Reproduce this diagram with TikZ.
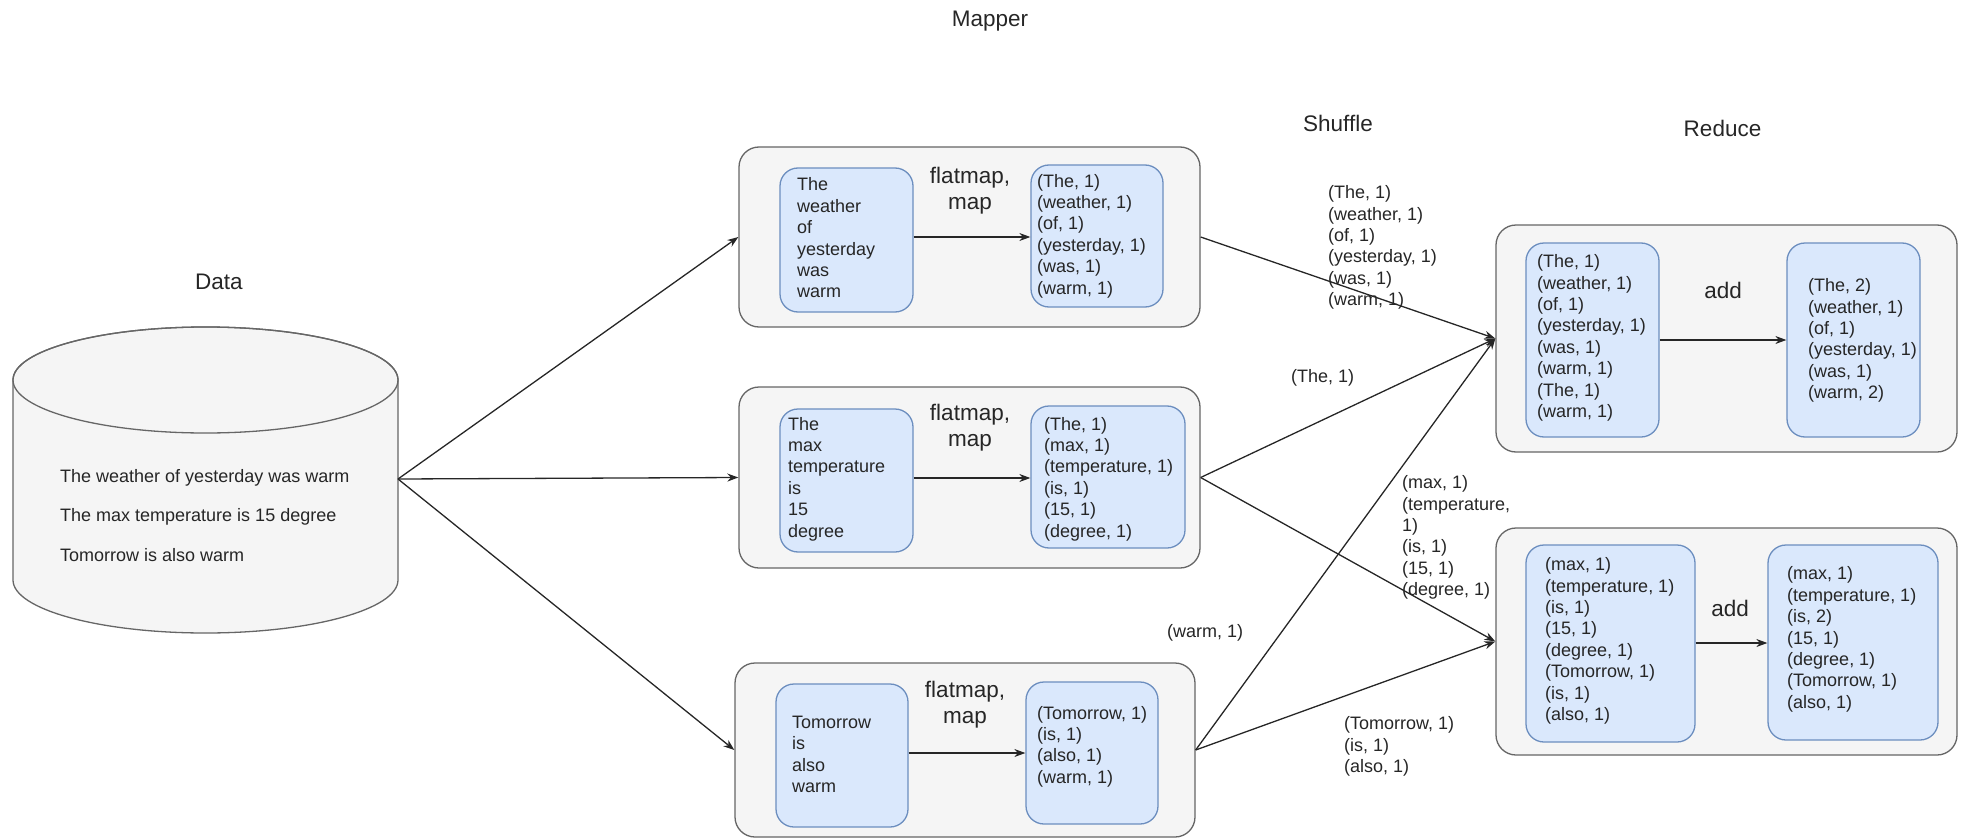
\documentclass[tikz,border=0pt]{standalone}
\usepackage{fontspec}
\setmainfont{Liberation Sans}
\usetikzlibrary{arrows.meta}
\definecolor{gfill}{HTML}{F5F5F5}
\definecolor{gstroke}{HTML}{666666}
\definecolor{bfill}{HTML}{DAE8FC}
\definecolor{bstroke}{HTML}{6C8EBF}
\begin{document}
\begin{tikzpicture}[x=1pt,y=-1pt,
  obox/.style={draw=gstroke, fill=gfill, rounded corners=20pt, line width=1.3pt, inner sep=0pt},
  ibox/.style={draw=bstroke, fill=bfill, rounded corners=18pt, line width=1.3pt, inner sep=0pt},
  txt/.style={inner sep=0pt, align=left, anchor=west, text=black!85, font=\fontsize{18}{21.4}\selectfont},
  ttl/.style={inner sep=0pt, text=black!85, font=\fontsize{22.5}{26}\selectfont},
  opl/.style={inner sep=0pt, align=center, text=black!85, font=\fontsize{22.5}{26}\selectfont},
  conn/.style={draw=black!85, line width=1.3pt, -{Stealth[length=11pt,width=8pt]}}]
\useasboundingbox (0,0) rectangle (1962,840);

% ---------- Data cylinder ----------
\path[fill=gfill, draw=gstroke, line width=1.3pt]
  (13,380) -- (13,580)
  .. controls (13,609.3) and (99.2,633) .. (205.5,633)
  .. controls (311.8,633) and (398,609.3) .. (398,580)
  -- (398,380)
  .. controls (398,350.7) and (311.8,327) .. (205.5,327)
  .. controls (99.2,327) and (13,350.7) .. (13,380) -- cycle;
\draw[gstroke, line width=1.3pt] (205.5,380) ellipse [x radius=192.5, y radius=53];
\coordinate (cyl) at (398,479);
\node[txt, font=\fontsize{18}{39.5}\selectfont] (datatext) at (60,515.5)
  {The weather of yesterday was warm\\The max temperature is 15 degree\\Tomorrow is also warm};

% ---------- Titles ----------
\node[ttl] (tdata) at (219,282) {Data};
\node[ttl] (tmapper) at (990,21) {Mapper};
\node[ttl] (tshuffle) at (1338,123) {Shuffle};
\node[ttl] (treduce) at (1722.5,128) {Reduce};

% ---------- Mapper boxes ----------
\node[obox, minimum width=461pt, minimum height=180pt] (m1) at (969.5,237) {};
\node[obox, minimum width=461pt, minimum height=181pt] (m2) at (969.5,477.5) {};
\node[obox, minimum width=460pt, minimum height=174pt] (m3) at (965,750) {};

\node[ibox, minimum width=133pt, minimum height=144pt] (m1a) at (846.5,240) {};
\node[ibox, minimum width=132pt, minimum height=142pt] (m1b) at (1097,236) {};
\node[ibox, minimum width=133pt, minimum height=143pt] (m2a) at (846.5,480.5) {};
\node[ibox, minimum width=154pt, minimum height=142pt] (m2b) at (1108,477) {};
\node[ibox, minimum width=132pt, minimum height=143pt] (m3a) at (842,755.5) {};
\node[ibox, minimum width=132pt, minimum height=142pt] (m3b) at (1092,753) {};

\node[txt] (m1at) at (797,238) {The\\weather\\of\\yesterday\\was\\warm};
\node[txt] (m1bt) at (1037,236) {(The, 1)\\(weather, 1)\\(of, 1)\\(yesterday, 1)\\(was, 1)\\(warm, 1)};
\node[txt] (m2at) at (788,479) {The\\max\\temperature\\is\\15\\degree};
\node[txt] (m2bt) at (1044,479) {(The, 1)\\(max, 1)\\(temperature, 1)\\(is, 1)\\(15, 1)\\(degree, 1)};
\node[txt] (m3at) at (792,754.5) {Tomorrow\\is\\also\\warm};
\node[txt] (m3bt) at (1037,746.5) {(Tomorrow, 1)\\(is, 1)\\(also, 1)\\(warm, 1)};

\node[opl] (m1op) at (970,191) {flatmap,\\map};
\node[opl] (m2op) at (970,427.5) {flatmap,\\map};
\node[opl] (m3op) at (965,704.5) {flatmap,\\map};

\draw[conn] (m1a.east |- 0,237) -- (m1b.west |- 0,237);
\draw[conn] (m2a.east |- 0,478) -- (m2b.west |- 0,478);
\draw[conn] (m3a.east |- 0,753) -- (m3b.west |- 0,753);

% ---------- Reduce boxes ----------
\node[obox, minimum width=461pt, minimum height=227pt] (r1) at (1726.5,338.5) {};
\node[obox, minimum width=461pt, minimum height=227pt] (r2) at (1726.5,641.5) {};

\node[ibox, minimum width=133pt, minimum height=194pt] (r1a) at (1592.5,340) {};
\node[ibox, minimum width=133pt, minimum height=194pt] (r1b) at (1853.5,340) {};
\node[ibox, minimum width=169pt, minimum height=197pt] (r2a) at (1610.5,643.5) {};
\node[ibox, minimum width=170pt, minimum height=195pt] (r2b) at (1853,642.5) {};

\node[txt] (r1at) at (1537,338) {(The, 1)\\(weather, 1)\\(of, 1)\\(yesterday, 1)\\(was, 1)\\(warm, 1)\\(The, 1)\\(warm, 1)};
\node[txt] (r1bt) at (1808,340.5) {(The, 2)\\(weather, 1)\\(of, 1)\\(yesterday, 1)\\(was, 1)\\(warm, 2)};
\node[txt] (r2at) at (1545,641) {(max, 1)\\(temperature, 1)\\(is, 1)\\(15, 1)\\(degree, 1)\\(Tomorrow, 1)\\(is, 1)\\(also, 1)};
\node[txt] (r2bt) at (1787,639.5) {(max, 1)\\(temperature, 1)\\(is, 2)\\(15, 1)\\(degree, 1)\\(Tomorrow, 1)\\(also, 1)};

\node[opl] (r1op) at (1723,290) {add};
\node[opl] (r2op) at (1730,608) {add};

\draw[conn] (r1a.east |- 0,340) -- (r1b.west |- 0,340);
\draw[conn] (r2a.east |- 0,643) -- (r2b.west |- 0,643);

% ---------- Data -> Mapper ----------
\draw[conn] (cyl) -- (m1.west);
\draw[conn] (cyl) -- (m2.west);
\draw[conn] (cyl) -- (m3.west);

% ---------- Shuffle ----------
\draw[conn] (m1.east) -- (r1.west);
\draw[conn] (m2.east) -- (r1.west);
\draw[conn] (m3.east) -- (r1.west);
\draw[conn] (m2.east) -- (r2.west);
\draw[conn] (m3.east) -- (r2.west);

\node[txt] (l1) at (1328,247.5) {(The, 1)\\(weather, 1)\\(of, 1)\\(yesterday, 1)\\(was, 1)\\(warm, 1)};
\node[txt] (l2) at (1291,378) {(The, 1)};
\node[txt] (l3) at (1402,537.5) {(max, 1)\\(temperature,\\1)\\(is, 1)\\(15, 1)\\(degree, 1)};
\node[txt] (l4) at (1167,633) {(warm, 1)};
\node[txt] (l5) at (1344,746.5) {(Tomorrow, 1)\\(is, 1)\\(also, 1)};
\end{tikzpicture}
\end{document}
